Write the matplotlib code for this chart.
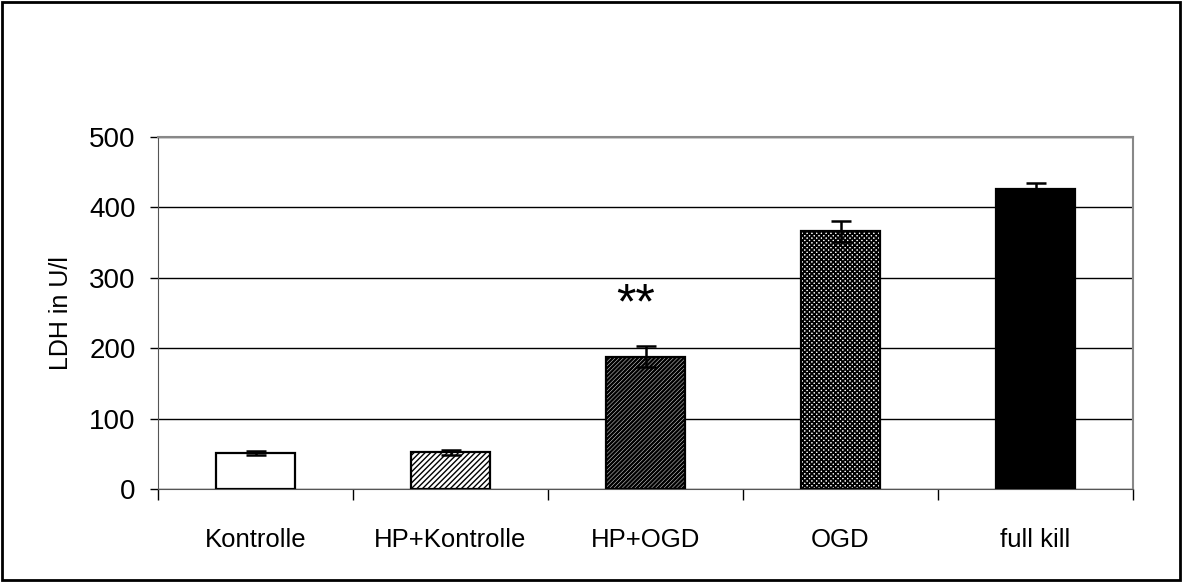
import numpy as np
import matplotlib
matplotlib.use("Agg")
import matplotlib.pyplot as plt
from matplotlib.patches import Rectangle

plt.rcParams['font.family'] = ['Liberation Sans', 'DejaVu Sans']

categories = ["Kontrolle", "HP+Kontrolle", "HP+OGD", "OGD", "full kill"]
values = [51, 52, 188, 366, 426]
errors = [3, 3, 15, 15, 8]
hatches = ["", "//////", "////////", "xxxxxxx", ""]
hatch_lw = [1.0, 1.0, 1.8, 1.3, 1.0]
colors = ["white", "white", "white", "white", "black"]
star_text = "**"
star_value = 261

fig = plt.figure(figsize=(11.82, 5.82), dpi=100)
ax = fig.add_axes([158 / 1182, 1 - 489 / 582, (1133 - 158) / 1182, (489 - 137) / 582])

x = np.arange(len(categories))
for i in range(len(categories)):
    b = ax.bar(x[i], values[i], width=0.405, color=colors[i], edgecolor="black",
               hatch=hatches[i], linewidth=1.6, zorder=3)
    for p in b:
        if hasattr(p, "set_hatch_linewidth"):
            p.set_hatch_linewidth(hatch_lw[i])
ax.errorbar(x, values, yerr=errors, fmt="none", ecolor="black", elinewidth=1.8,
            capsize=7, capthick=1.8, zorder=4)
ax.text(x[2] - 0.05, star_value, star_text, ha="center", va="center", fontsize=36)

ax.set_xlim(-0.5, len(categories) - 0.5)
ax.set_ylim(0, 500)
ax.set_yticks(np.arange(0, 501, 100))
ax.tick_params(axis="y", labelsize=20, length=6, width=1, direction="out", pad=10)
ax.set_xticks(x)
ax.set_xticklabels(categories)
ax.set_xticks(np.arange(-0.5, len(categories)), minor=True)
ax.tick_params(axis="x", which="major", length=0, labelsize=18.5, pad=28)
ax.tick_params(axis="x", which="minor", length=8, width=1)
ax.set_ylabel("LDH in U/l", fontsize=18, labelpad=12)
ax.grid(axis="y", color="black", linewidth=1, zorder=0)
ax.set_axisbelow(True)
for s in ["top", "right"]:
    ax.spines[s].set_color("#888888")
    ax.spines[s].set_linewidth(1.5)
ax.spines["left"].set_color("#555555")
ax.spines["bottom"].set_color("#555555")

fig.patches.append(Rectangle((0.002, 0.003), 0.996, 0.994, transform=fig.transFigure,
                             fill=False, edgecolor="black", linewidth=2))

fig.savefig("out.png", dpi=100)
